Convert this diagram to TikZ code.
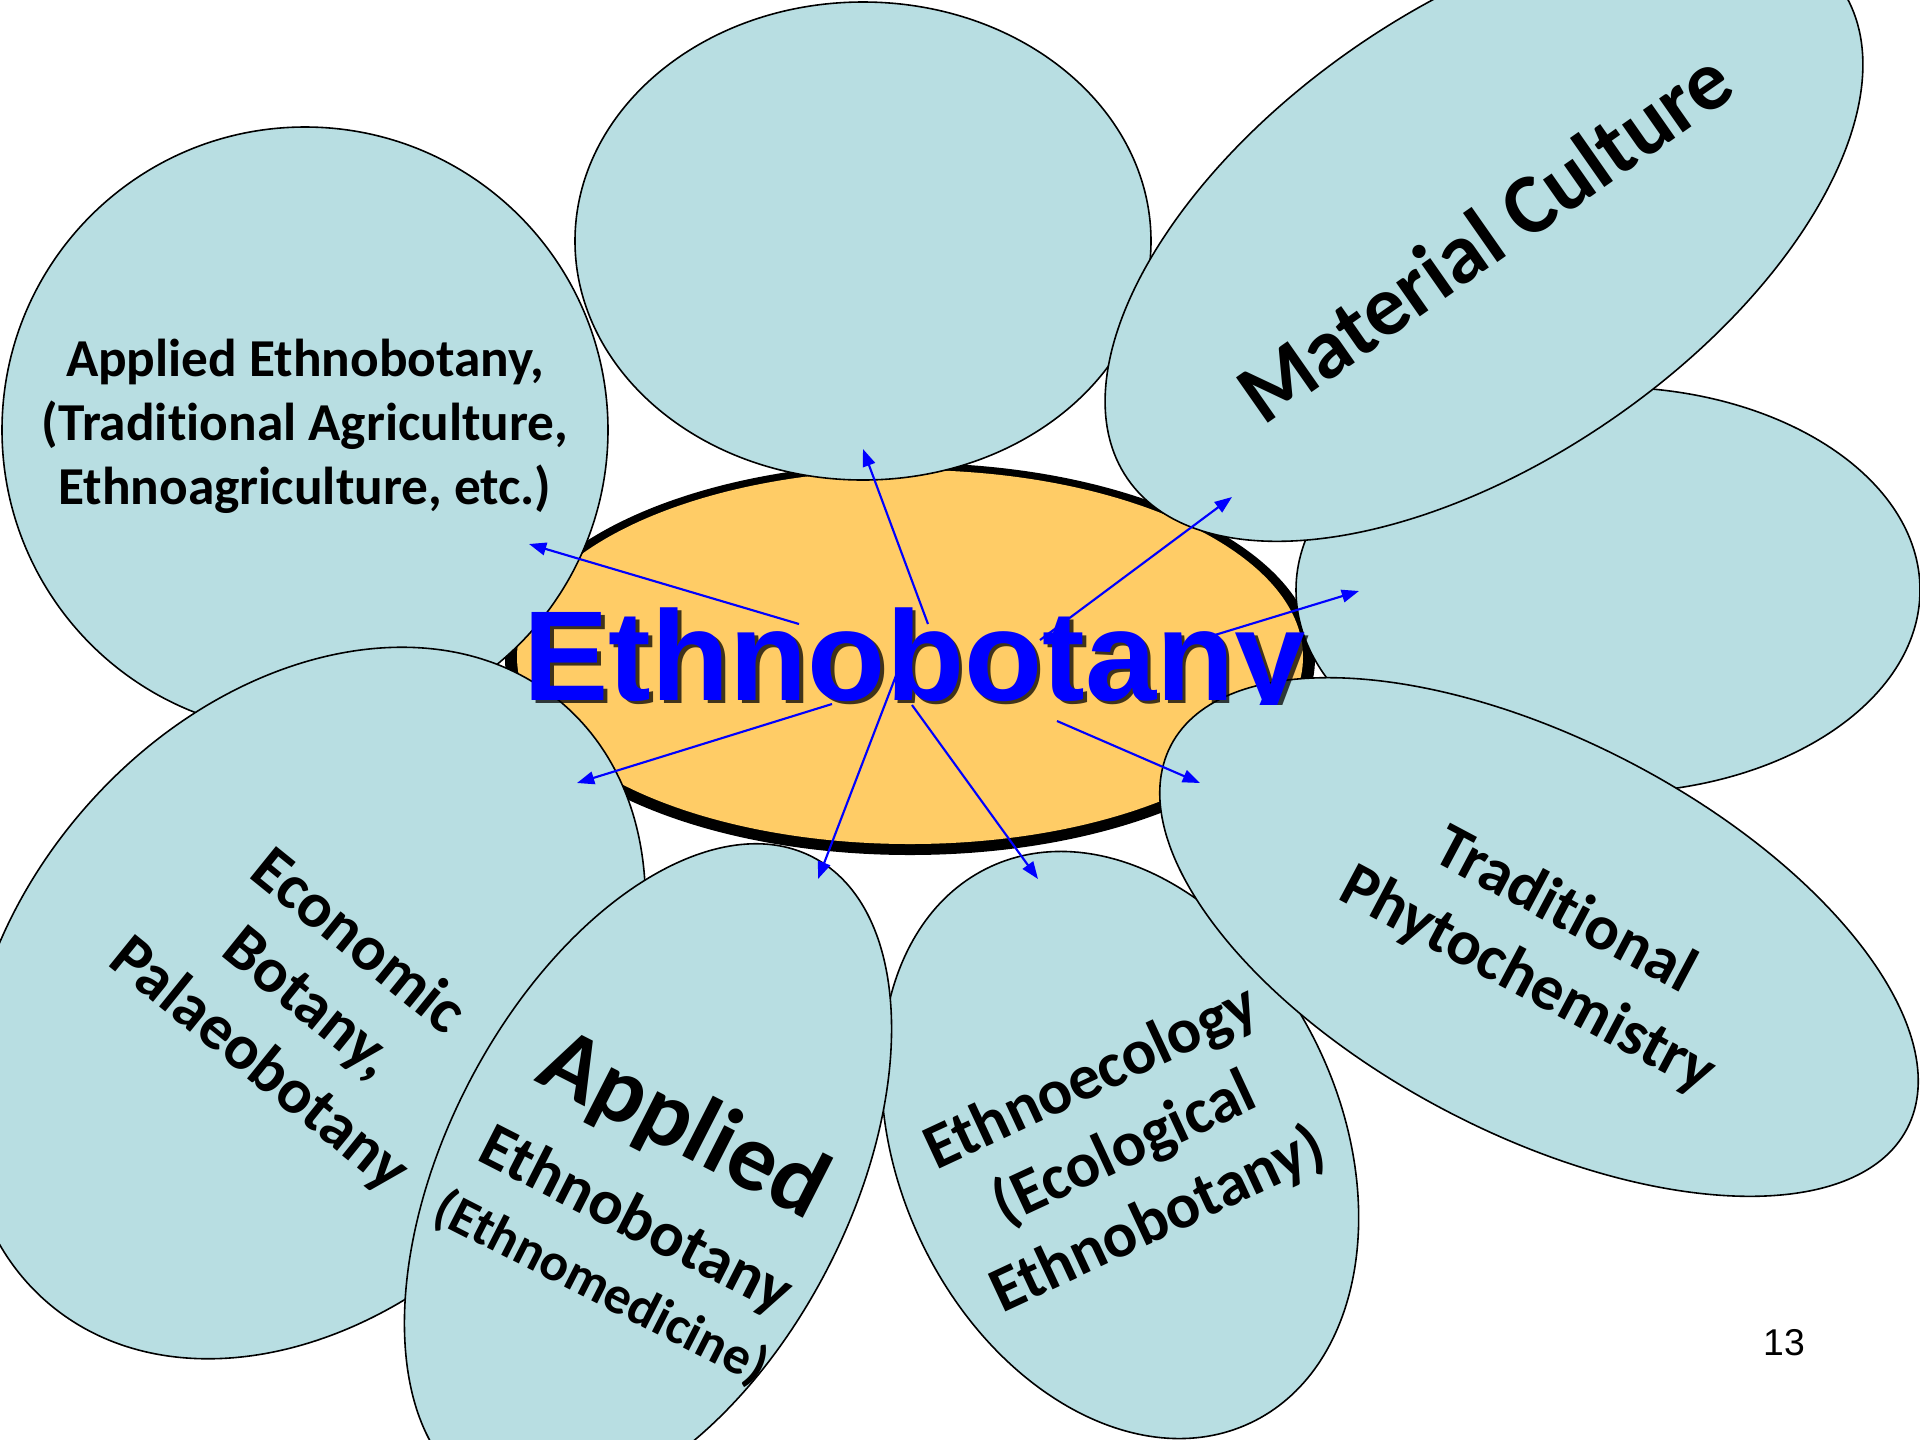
\documentclass[tikz,border=0pt]{standalone}
\usepackage{fontspec}
\setmainfont{Carlito}[Ligatures=NoCommon]
\newfontfamily\headfont{Liberation Sans}
\usepackage{tikz}
\usetikzlibrary{arrows.meta}
\definecolor{petalfill}{HTML}{B8DEE2}
\definecolor{hubfill}{HTML}{FFCC66}
\definecolor{spokeblue}{HTML}{0000FF}
\tikzset{
  petal/.style={fill=petalfill, draw=black, line width=0.6pt},
  hubrim/.style={fill=black},
  hubface/.style={fill=hubfill},
  spoke/.style={draw=spokeblue, line width=0.8pt, -{Triangle[length=6.5pt,width=4.8pt]}},
  lab/.style={text=black, font=\bfseries\fontsize{24bp}{29.5bp}\selectfont, align=center, inner sep=0pt},
  labs/.style={text=black, font=\bfseries\fontsize{20bp}{24bp}\selectfont, align=center, inner sep=0pt},
  labl/.style={text=black, font=\bfseries\fontsize{32bp}{38bp}\selectfont, align=center, inner sep=0pt},
  head/.style={font=\headfont\bfseries\fontsize{48bp}{56bp}\selectfont, inner sep=0pt, anchor=base west},
}

\begin{document}
\begin{tikzpicture}[x=0.375bp,y=-0.375bp]
  \useasboundingbox (0,0) rectangle (1920,1440);
  \fill[white] (0,0) rectangle (1920,1440);
  \clip (0,0) rectangle (1920,1440);

  % centre
  \path[hubrim] (910,659) ellipse [x radius=405, y radius=196];
  \path[hubface] (910,657) ellipse [x radius=393, y radius=187];

  % petals, back to front
  \path[petal] (305,430) circle [radius=303];
  \path[petal] (863,241) ellipse [x radius=288, y radius=239];
  \path[petal] (1608,590) ellipse [x radius=312, y radius=203];
  \path[petal, rotate around={34.6:(1484,233)}] (1484,233) ellipse [x radius=433, y radius=226];
  \path[petal, rotate around={-65:(1120,1145)}] (1120,1145) ellipse [x radius=307, y radius=221];
  \path[petal, rotate around={-27.5:(1539,937)}] (1539,937) ellipse [x radius=415, y radius=197];
  \path[petal, rotate around={49.4:(305,1003)}] (305,1003) ellipse [x radius=395, y radius=294];
  \path[petal, rotate around={62.7:(648,1176)}] (648,1176) ellipse [x radius=359, y radius=202];

  \node[labs] (agri) at (305,426) {Applied Ethnobotany,\\(Traditional Agriculture,\\Ethnoagriculture, etc.)};
  \node[labl, rotate=35] (material) at (1484,236) {Material Culture};
  \node[lab, rotate=-28] (phyto) at (1546,946) {Traditional\\Phytochemistry};
  \node[lab, rotate=25] (ecology) at (1125,1150) {Ethnoecology\\(Ecological\\Ethnobotany)};
  \node[lab, rotate=-39] (economic) at (308,1004) {Economic\\Botany,\\Palaeobotany};
  \node[lab, rotate=-27] (medicine) at (646,1200)
    {{\fontsize{36bp}{40bp}\selectfont Applied}\\[7bp]Ethnobotany\\[-2bp]{\fontsize{20bp}{24bp}\selectfont (Ethnomedicine)}};

  % title with its shadow, cut at the baseline
  \begin{scope}
    \clip (400,480) rectangle (1400,704);
    \node[head, text=black, text opacity=0.75, xshift=1.3bp, yshift=-1.3bp] (shade) at (523,700) {Ethnobotany};
    \node[head, text=spokeblue] (title) at (523,700) {Ethnobotany};
  \end{scope}

  \foreach \n/\sx/\sy/\ex/\ey in {1/799/624/529/544, 2/928/624/863/449,
    3/1040/640/1232/497, 4/1205/638/1359/591, 5/1057/721/1200/783,
    6/912/705/1038/879, 7/897/673/818/879, 8/832/704/577/783}{
    \coordinate (from\n) at (\sx,\sy);
    \coordinate (to\n) at (\ex,\ey);
    \draw[spoke] (from\n) -- (to\n);
  }

  \node[font=\headfont\fontsize{14bp}{16bp}\selectfont, inner sep=0pt] (pageno) at (1784,1343) {13};
\end{tikzpicture}
\end{document}
